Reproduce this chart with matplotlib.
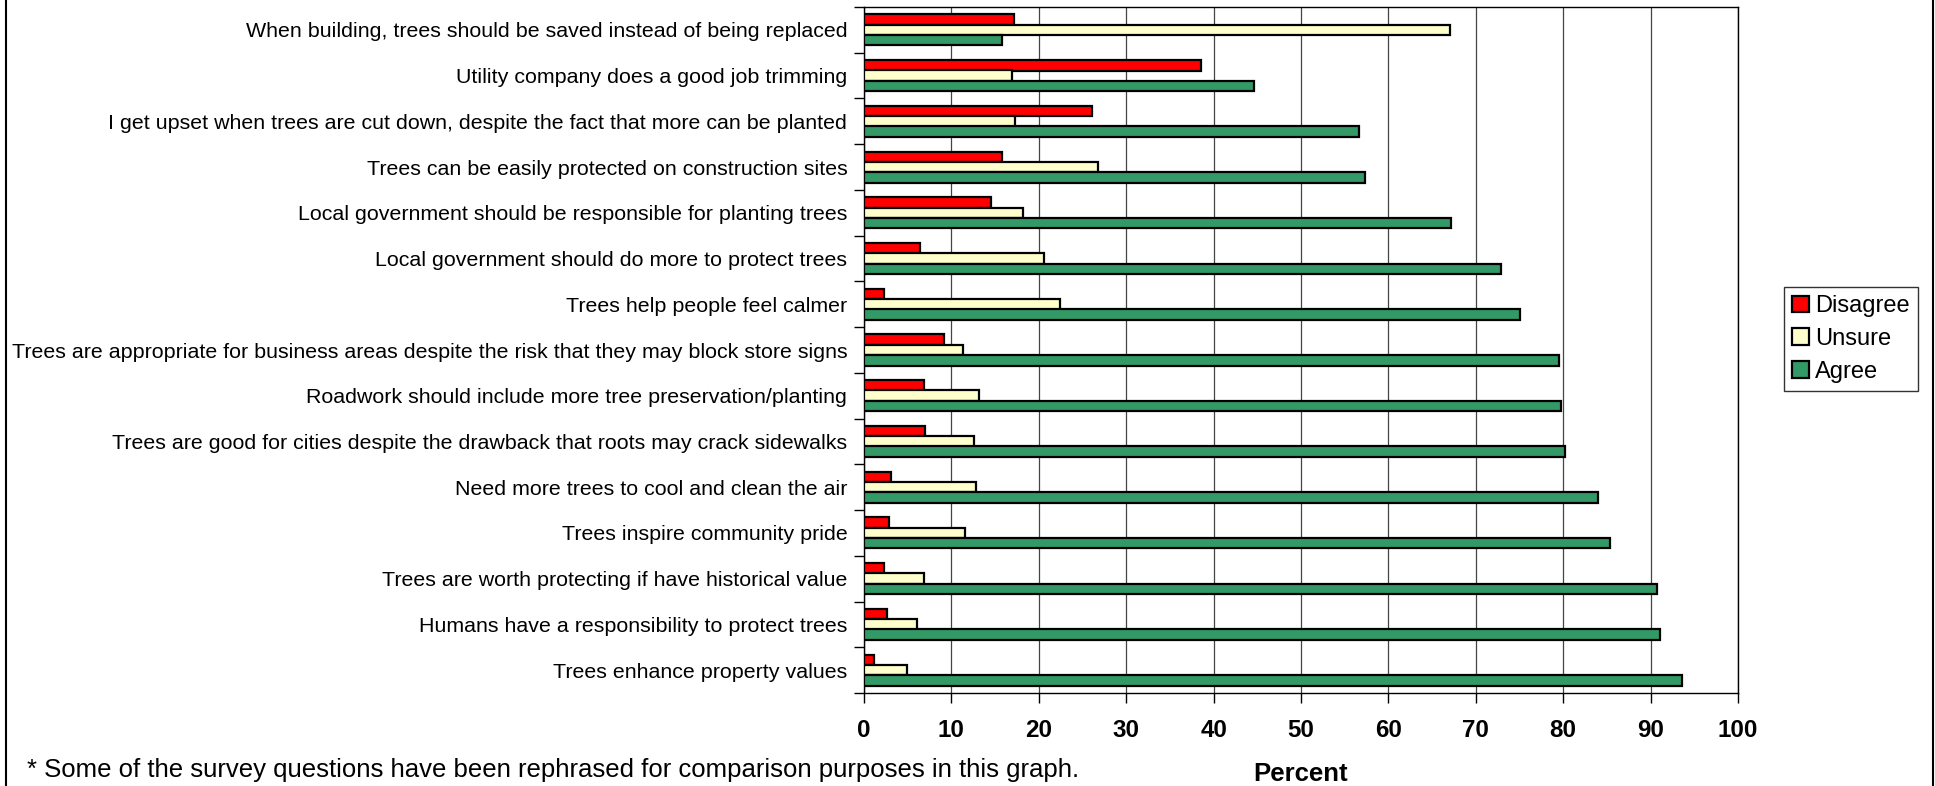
import matplotlib
matplotlib.use("Agg")
import matplotlib.pyplot as plt
import numpy as np
from matplotlib.lines import Line2D

plt.rcParams["font.family"] = ["Liberation Sans", "DejaVu Sans"]

questions = [
    "When building, trees should be saved instead of being replaced",
    "Utility company does a good job trimming",
    "I get upset when trees are cut down, despite the fact that more can be planted",
    "Trees can be easily protected on construction sites",
    "Local government should be responsible for planting trees",
    "Local government should do more to protect trees",
    "Trees help people feel calmer",
    "Trees are appropriate for business areas despite the risk that they may block store signs",
    "Roadwork should include more tree preservation/planting",
    "Trees are good for cities despite the drawback that roots may crack sidewalks",
    "Need more trees to cool and clean the air",
    "Trees inspire community pride",
    "Trees are worth protecting if have historical value",
    "Humans have a responsibility to protect trees",
    "Trees enhance property values",
]
disagree = [17.2, 38.6, 26.1, 15.8, 14.5, 6.4, 2.3, 9.1, 6.9, 7.0, 3.1, 2.9, 2.3, 2.6, 1.1]
unsure = [67.0, 16.9, 17.3, 26.8, 18.2, 20.6, 22.4, 11.3, 13.2, 12.6, 12.8, 11.5, 6.9, 6.1, 4.9]
agree = [15.8, 44.6, 56.6, 57.3, 67.2, 72.9, 75.1, 79.5, 79.8, 80.2, 84.0, 85.4, 90.7, 91.1, 93.6]

fig = plt.figure(figsize=(19.35, 7.86), dpi=100)
ax = fig.add_axes([864 / 1935, 1 - 693 / 786, 874 / 1935, 686 / 786])

y = np.arange(len(questions))
h = 0.23
bar_kw = dict(height=h, edgecolor="black", linewidth=1.6, zorder=3)
ax.barh(y - 0.225, disagree, color="#FF0000", label="Disagree", **bar_kw)
ax.barh(y, unsure, color="#FFFFCC", label="Unsure", **bar_kw)
ax.barh(y + 0.225, agree, color="#339966", label="Agree", **bar_kw)

ax.set_xlim(0, 100)
ax.set_ylim(len(questions) - 0.5, -0.5)
ax.set_xticks(np.arange(0, 101, 10))
ax.tick_params(axis="x", direction="out", length=7, width=1, pad=12, labelsize=17.4)
for lab in ax.get_xticklabels():
    lab.set_fontweight("bold")
ax.xaxis.grid(True, color="#444444", linewidth=0.9, zorder=0)

ax.set_yticks(y)
ax.set_yticklabels(questions, fontsize=15.4)
ax.set_yticks(np.arange(-0.5, len(questions), 1), minor=True)
ax.tick_params(axis="y", which="major", length=0, pad=12)
ax.tick_params(axis="y", which="minor", direction="out", length=7, width=1)
for s in ax.spines.values():
    s.set_linewidth(1.0)

fig.legend(loc="upper left", bbox_to_anchor=(1784 / 1935, 1 - 287 / 786),
           frameon=True, fancybox=False, edgecolor="black", fontsize=17,
           handlelength=0.7, handleheight=0.7, handletextpad=0.25,
           borderpad=0.35, labelspacing=0.45, borderaxespad=0)

fig.text(1301 / 1935, 1 - 774 / 786, "Percent", ha="center", va="center",
         fontsize=18.5, fontweight="bold")
fig.text(27 / 1935, 1 - 770 / 786,
         "* Some of the survey questions have been rephrased for comparison purposes in this graph.",
         ha="left", va="center", fontsize=18.5)

# frame lines at the left and right of the figure
fig.add_artist(Line2D([6 / 1935, 6 / 1935], [0, 1], color="black", linewidth=1.5))
fig.add_artist(Line2D([1933 / 1935, 1933 / 1935], [0, 1], color="black", linewidth=1.5))

fig.savefig("out.png", dpi=100)
